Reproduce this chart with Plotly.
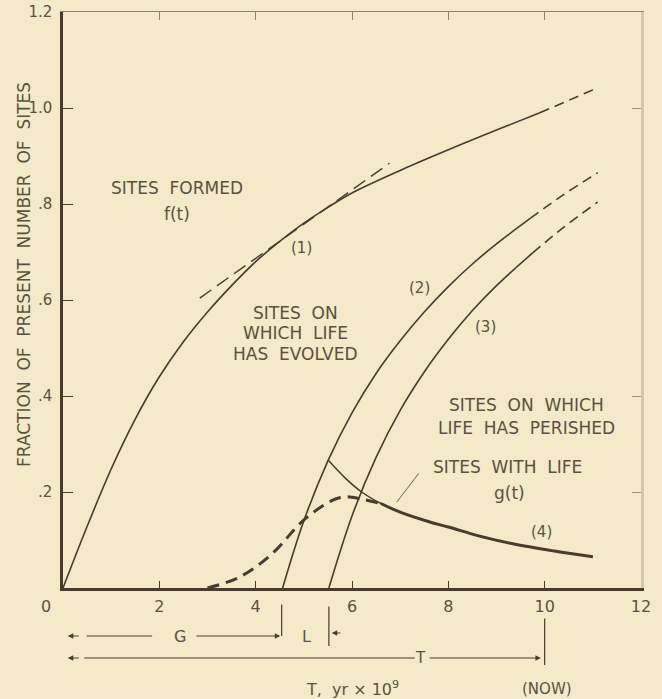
import plotly.graph_objects as go

# ---- data (time in units of 10^9 yr, fraction of present number of sites) ----
# (1) sites formed, f(t): solid part and dashed extrapolation
f_x = [0, 0.5, 1.0, 1.5, 2.0, 2.5, 3.0, 3.5, 4.0, 4.5, 5.0, 5.5, 6.0, 7.0, 8.0, 9.0, 9.9]
f_y = [0, 0.128, 0.248, 0.352, 0.44, 0.513, 0.575, 0.63, 0.68, 0.722, 0.76, 0.793,
       0.823, 0.870, 0.913, 0.954, 0.99]
f_ext_x = [9.9, 10.5, 11.1]
f_ext_y = [0.99, 1.016, 1.042]

# tangent to f(t)
tan_x = [2.84, 6.78]
tan_y = [0.604, 0.885]

# (2) sites on which life has evolved
c2_x = [4.56, 5.0, 5.5, 6.0, 6.5, 7.0, 7.5, 8.0, 8.5, 9.0, 9.7]
c2_y = [0, 0.14, 0.265, 0.365, 0.447, 0.515, 0.575, 0.628, 0.675, 0.717, 0.77]
c2_ext_x = [9.7, 10.4, 11.1]
c2_ext_y = [0.77, 0.82, 0.865]

# (3) sites on which life has perished
c3_x = [5.52, 6.0, 6.5, 7.0, 7.5, 8.0, 8.5, 9.0, 9.75]
c3_y = [0, 0.15, 0.272, 0.37, 0.45, 0.518, 0.578, 0.63, 0.698]
c3_ext_x = [9.75, 10.4, 11.1]
c3_ext_y = [0.698, 0.752, 0.804]

# (4) difference curve
c4_x = [5.5, 5.85, 6.2, 6.6, 7.0, 7.6, 8.0, 8.65, 9.34, 10.2, 11.0]
c4_y = [0.267, 0.23, 0.2, 0.176, 0.158, 0.138, 0.127, 0.108, 0.092, 0.077, 0.065]

# g(t): sites with life (rising dashed part, then follows curve 4)
g_x = [3.0, 3.67, 4.36, 4.98, 5.6, 5.89, 6.2, 6.6]
g_y = [0, 0.023, 0.073, 0.14, 0.183, 0.19, 0.185, 0.176]
g_join = 6.6

x_ticks = [2, 4, 6, 8, 10, 12]
y_ticks = [0.2, 0.4, 0.6, 0.8, 1.0, 1.2]
y_ticktext = [".2", ".4", ".6", ".8", "1.0", "1.2"]

# interval markers under the time axis: G (ends at 4.54), L (ends at 5.52), T (ends at 10)
G_end, L_end, T_end = 4.54, 5.52, 10.0

# ---- styling ----
BG = "#F4E9C9"
INK = "#463c2f"
TXT = "#5a5142"
FONT = "DejaVu Sans"

W, H = 662, 699
M_L, M_R, M_T, M_B = 63, 21, 12, 111
PLOT_H = H - M_T - M_B


def py(pixel_y):
    """Paper y for a pixel row of the page."""
    return (H - M_B - pixel_y) / PLOT_H


fig = go.Figure()


def curve(x, y, width=1.6, dash=None):
    fig.add_trace(go.Scatter(
        x=x, y=y, mode="lines", hoverinfo="skip", showlegend=False,
        line=dict(color=INK, width=width, dash=dash, shape="spline", smoothing=1.0),
    ))


curve(f_x, f_y)
curve(f_ext_x, f_ext_y, dash="10px,6px")
curve(tan_x, tan_y, width=1.4, dash="14px,7px")
curve(c2_x, c2_y)
curve(c2_ext_x, c2_ext_y, dash="10px,6px")
curve(c3_x, c3_y)
curve(c3_ext_x, c3_ext_y, dash="10px,6px")
curve(c4_x, c4_y, width=1.5)
curve(g_x, g_y, width=3, dash="12px,7px")
tail_x = [x for x in c4_x if x >= g_join]
tail_y = [y for x, y in zip(c4_x, c4_y) if x >= g_join]
curve(tail_x, tail_y, width=3)

# carrier trace for the top / right axes
fig.add_trace(go.Scatter(x=[None], y=[None], xaxis="x2", yaxis="y2",
                         showlegend=False, hoverinfo="skip"))

annotations = []


def label(x, y, text, size=17, yref="y", **kw):
    annotations.append(dict(x=x, y=y, xref="x", yref=yref, text=text, showarrow=False,
                            font=dict(family=FONT, size=size, color=TXT), **kw))


def seg(x0, y0, x1, y1, head=0, width=1.2, color=INK):
    # line in data coordinates from (x0, y0) to (x1, y1)
    annotations.append(dict(x=x1, y=y1, ax=x0, ay=y0, xref="x", yref="y",
                            axref="x", ayref="y", text="", showarrow=True,
                            arrowhead=head, arrowsize=0.9, arrowwidth=width,
                            arrowcolor=color, standoff=0, startstandoff=0))


def hseg(x0, x1, row, head=0, width=1.2):
    # horizontal line below the axis, from x0 to x1 (head at x1)
    annotations.append(dict(x=x1, y=py(row), ax=x0, ay=0, xref="x", yref="paper",
                            axref="x", ayref="pixel", text="", showarrow=True,
                            arrowhead=head, arrowsize=0.9, arrowwidth=width,
                            arrowcolor=INK, standoff=0, startstandoff=0))


def vseg(x, top, bottom, width=1.2):
    # vertical bar below the axis between two pixel rows
    annotations.append(dict(x=x, y=py(bottom), ax=0, ay=-(bottom - top), xref="x",
                            yref="paper", axref="pixel", ayref="pixel", text="",
                            showarrow=True, arrowhead=0, arrowwidth=width,
                            arrowcolor=INK, standoff=0, startstandoff=0))


def under(x, row, text, size=16):
    # text placed below the plotting area
    label(x, py(row), text, size=size, yref="paper", yanchor="middle")


# region labels
label(2.37, 0.833, "SITES  FORMED")
label(2.37, 0.780, "f(t)")
label(4.96, 0.708, "(1)", size=15)
label(4.83, 0.572, "SITES  ON")
label(4.83, 0.531, "WHICH  LIFE")
label(4.83, 0.488, "HAS  EVOLVED")
label(7.41, 0.625, "(2)", size=15)
label(8.78, 0.544, "(3)", size=15)
label(9.63, 0.381, "SITES  ON  WHICH")
label(9.63, 0.333, "LIFE  HAS  PERISHED")
label(9.23, 0.252, "SITES  WITH  LIFE")
label(9.27, 0.198, "g(t)")
label(9.94, 0.117, "(4)", size=15)
seg(7.41, 0.242, 6.93, 0.179, width=1.0, color="#6b6252")

# origin label, offset from the axis corner
label(0, 0, "0", size=16, xshift=-17, yanchor="top", yshift=-7)

# G, L and T intervals
rowG, rowT = 636, 658
hseg(0.36, 0.10, rowG, head=2)
hseg(0.46, 1.85, rowG)
under(2.43, rowG, "G")
hseg(2.74, G_end - 0.03, rowG, head=2)
vseg(G_end, 603, 636)
under(5.06, rowG, "L")
vseg(L_end, 605, 646)
hseg(L_end + 0.27, L_end + 0.06, 633, head=2)
hseg(0.36, 0.10, rowT, head=2)
hseg(0.41, 7.30, rowT)
under(7.43, rowT, "T", size=15)
hseg(7.58, T_end - 0.08, rowT, head=2)
vseg(T_end, 617, 665)

under(6.02, 688, "T,  yr × 10<sup>9</sup>")
under(10.04, 689, "(NOW)", size=15)

# y-axis title
annotations.append(dict(x=(24 - M_L) / (W - M_L - M_R), y=py(275), xref="paper",
                        yref="paper", xanchor="center", yanchor="middle",
                        text="FRACTION  OF  PRESENT  NUMBER  OF  SITES",
                        textangle=-90, showarrow=False,
                        font=dict(family=FONT, size=17, color=TXT)))

fig.update_layout(
    width=W, height=H,
    margin=dict(l=M_L, r=M_R, t=M_T, b=M_B, autoexpand=False),
    paper_bgcolor=BG, plot_bgcolor=BG,
    showlegend=False,
    annotations=annotations,
    xaxis=dict(range=[0, 12], showgrid=False, zeroline=False, automargin=False,
               showline=True, linecolor=INK, linewidth=2.5,
               ticks="inside", ticklen=7, tickwidth=1.2, tickcolor=INK,
               tickvals=x_ticks, ticktext=[str(v) for v in x_ticks],
               ticklabelstandoff=2,
               tickfont=dict(family=FONT, size=16, color=TXT)),
    yaxis=dict(range=[0, 1.2], showgrid=False, zeroline=False, automargin=False,
               showline=True, linecolor=INK, linewidth=2.5,
               ticks="inside", ticklen=10, tickwidth=1.2, tickcolor=INK,
               tickvals=y_ticks, ticktext=y_ticktext,
               ticklabelstandoff=5,
               tickfont=dict(family=FONT, size=15, color=TXT)),
    xaxis2=dict(overlaying="x", side="top", range=[0, 12], showgrid=False,
                zeroline=False, automargin=False, showline=True,
                linecolor="#8c8372", linewidth=1.4,
                ticks="inside", ticklen=8, tickwidth=1.2, tickcolor="#8c8372",
                tickvals=[2, 4, 6, 8, 10], showticklabels=False),
    yaxis2=dict(overlaying="y", side="right", range=[0, 1.2], showgrid=False,
                zeroline=False, automargin=False, showline=True,
                linecolor="#d2c9ad", linewidth=2.5,
                ticks="inside", ticklen=9, tickwidth=1.2, tickcolor="#9a917f",
                tickvals=[0.2, 0.4, 1.0], showticklabels=False),
)

fig.write_html("out.html")
